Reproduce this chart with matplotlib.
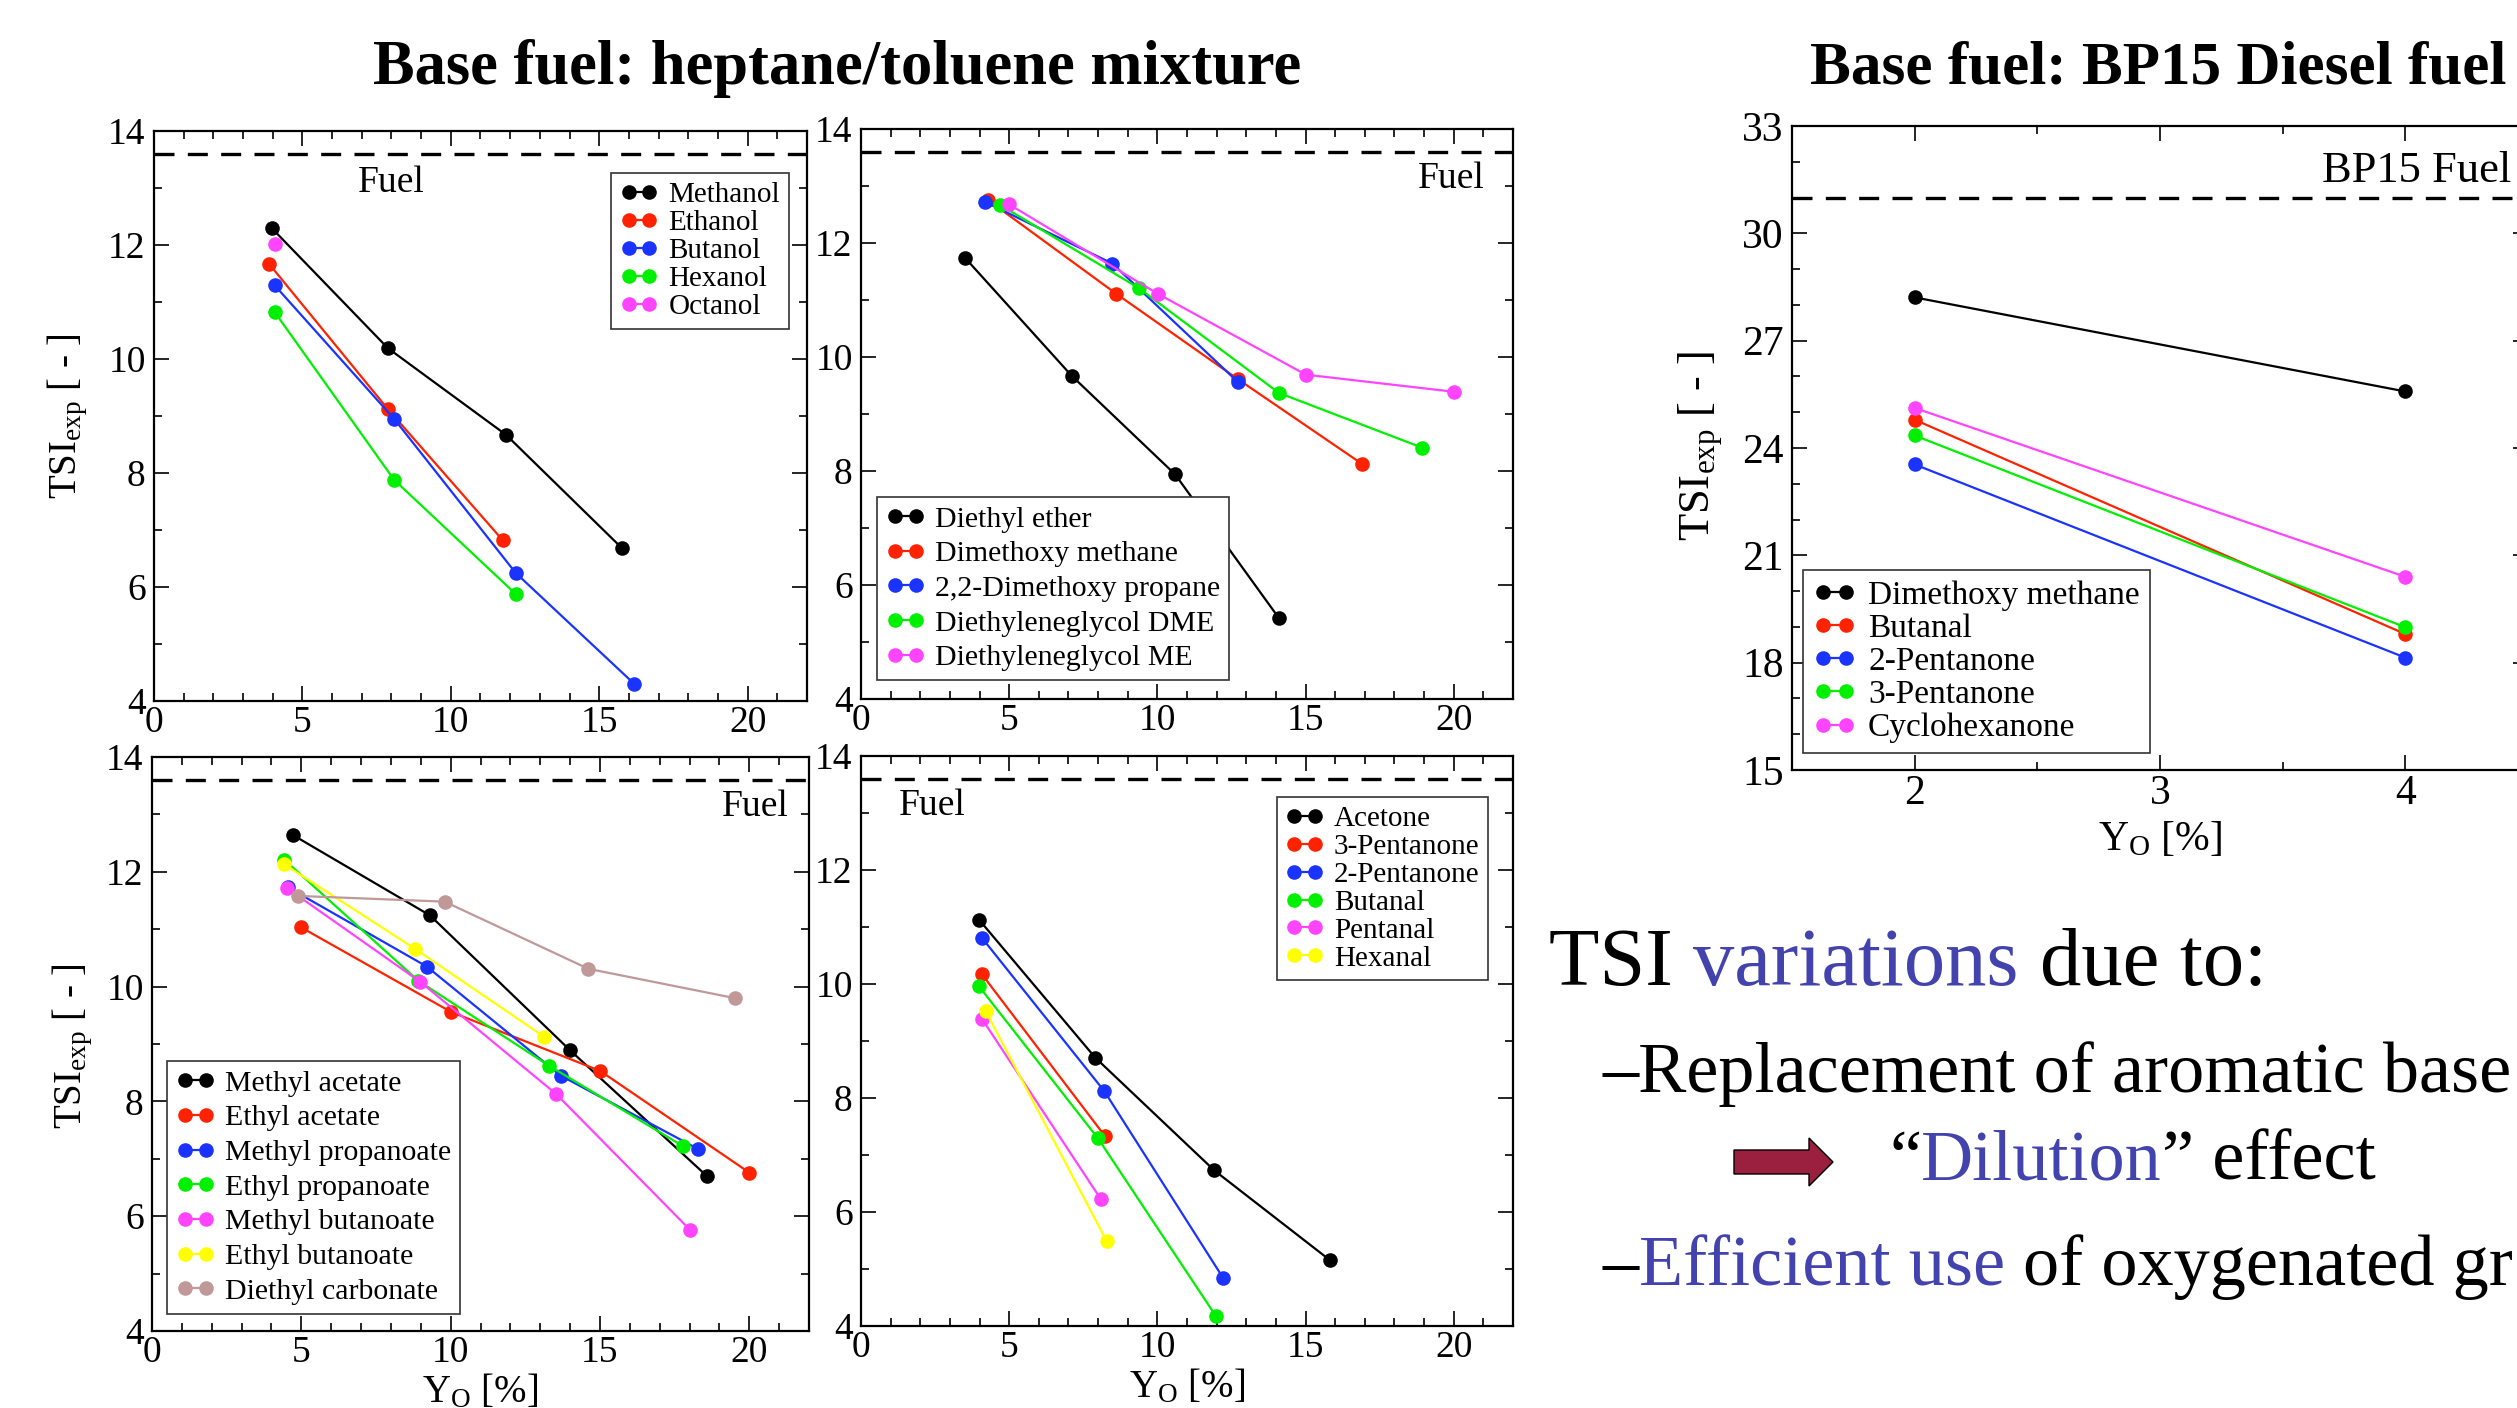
import matplotlib
matplotlib.use('Agg')
import matplotlib.pyplot as plt
from matplotlib.patches import Polygon
from matplotlib.ticker import MultipleLocator

plt.rcParams['font.family'] = ['Liberation Serif', 'DejaVu Serif']
plt.rcParams['mathtext.fontset'] = 'custom'
plt.rcParams['mathtext.rm'] = 'Liberation Serif'
plt.rcParams['mathtext.it'] = 'Liberation Serif:italic'
plt.rcParams['mathtext.bf'] = 'Liberation Serif:bold'

W, H, DPI = 2517, 1408, 100

# ---------------- colours ----------------
BLACK = '#000000'
RED = '#FF2200'
BLUE = '#1A33FF'
GREEN = '#00F000'
MAGENTA = '#FF44FF'
YELLOW = '#FFFF00'
BROWN = '#C09898'
TXTBLUE = '#4343AE'

# ---------------- data ----------------
fuel_tsi = 13.6
bp15_tsi = 31.0

# Panel 1: alcohols
p1_names = ['Methanol', 'Ethanol', 'Butanol', 'Hexanol', 'Octanol']
p1_colors = [BLACK, RED, BLUE, GREEN, MAGENTA]
p1_x = [[3.96, 7.88, 11.86, 15.77], [3.89, 7.88, 11.75], [4.07, 8.09, 12.18, 16.18],
        [4.07, 8.09, 12.18], [4.07]]
p1_y = [[12.30, 10.19, 8.67, 6.68], [11.66, 9.12, 6.82], [11.29, 8.95, 6.25, 4.30],
        [10.82, 7.88, 5.88], [12.01]]

# Panel 2: ethers
p2_names = ['Diethyl ether', 'Dimethoxy methane', '2,2-Dimethoxy propane',
            'Diethyleneglycol DME', 'Diethyleneglycol ME']
p2_colors = [BLACK, RED, BLUE, GREEN, MAGENTA]
p2_x = [[3.51, 7.11, 10.60, 14.10], [4.27, 8.61, 12.72, 16.89], [4.19, 8.48, 12.72],
        [4.69, 9.37, 14.10, 18.93], [4.99, 10.01, 15.01, 20.0]]
p2_y = [[11.74, 9.67, 7.94, 5.42], [12.76, 11.11, 9.61, 8.13], [12.72, 11.64, 9.56],
        [12.67, 11.21, 9.37, 8.41], [12.68, 11.11, 9.69, 9.39]]

# Panel 3: esters
p3_names = ['Methyl acetate', 'Ethyl acetate', 'Methyl propanoate', 'Ethyl propanoate',
            'Methyl butanoate', 'Ethyl butanoate', 'Diethyl carbonate']
p3_colors = [BLACK, RED, BLUE, GREEN, MAGENTA, YELLOW, BROWN]
p3_x = [[4.72, 9.31, 14.00, 18.58], [5.00, 10.01, 15.01, 20.0], [4.55, 9.20, 13.68, 18.29],
        [4.43, 8.92, 13.30, 17.78], [4.51, 8.99, 13.53, 18.02], [4.43, 8.80, 13.12],
        [4.90, 9.80, 14.61, 19.51]]
p3_y = [[12.64, 11.24, 8.89, 6.70], [11.03, 9.56, 8.53, 6.76], [11.73, 10.35, 8.45, 7.17],
        [12.21, 10.10, 8.62, 7.22], [11.72, 10.08, 8.13, 5.76], [12.13, 10.66, 9.13],
        [11.58, 11.48, 10.31, 9.80]]

# Panel 4: ketones / aldehydes
p4_names = ['Acetone', '3-Pentanone', '2-Pentanone', 'Butanal', 'Pentanal', 'Hexanal']
p4_colors = [BLACK, RED, BLUE, GREEN, MAGENTA, YELLOW]
p4_x = [[3.98, 7.90, 11.92, 15.81], [4.08, 8.22], [4.08, 8.21, 12.21],
        [3.98, 8.00, 11.98], [4.08, 8.10], [4.21, 8.29]]
p4_y = [[11.13, 8.71, 6.73, 5.16], [10.17, 7.34], [10.81, 8.12, 4.85],
        [9.96, 7.29, 4.17], [9.39, 6.22], [9.52, 5.49]]

# Panel 5: BP15 diesel
p5_names = ['Dimethoxy methane', 'Butanal', '2-Pentanone', '3-Pentanone', 'Cyclohexanone']
p5_colors = [BLACK, RED, BLUE, GREEN, MAGENTA]
p5_x = [[2, 4], [2, 4], [2, 4], [2, 4], [2, 4]]
p5_y = [[28.21, 25.58], [24.79, 18.80], [23.54, 18.14], [24.35, 18.99], [25.12, 20.40]]

# ---------------- figure ----------------
fig = plt.figure(figsize=(W / DPI, H / DPI), dpi=DPI)
fig.patch.set_facecolor('white')


def add_ax(l, t, r, b):
    return fig.add_axes([l / W, 1 - b / H, (r - l) / W, (b - t) / H])


def style(ax, xlim, ylim, xmaj, xmin, ymaj, ymin, tfs):
    ax.set_xlim(*xlim)
    ax.set_ylim(*ylim)
    ax.xaxis.set_major_locator(MultipleLocator(xmaj))
    ax.xaxis.set_minor_locator(MultipleLocator(xmin))
    ax.yaxis.set_major_locator(MultipleLocator(ymaj))
    ax.yaxis.set_minor_locator(MultipleLocator(ymin))
    ax.tick_params(which='both', direction='in', top=True, right=True, width=1.2)
    ax.tick_params(which='major', length=11, labelsize=tfs)
    ax.tick_params(which='minor', length=5.5)
    ax.tick_params(axis='x', pad=3)
    ax.tick_params(axis='y', pad=6)
    for s in ax.spines.values():
        s.set_linewidth(1.6)


def plot_series(ax, names, colors, xs, ys):
    for n, c, x, y in zip(names, colors, xs, ys):
        ax.plot(x, y, '-o', color=c, lw=1.6, ms=10.5, mew=0, label=n)


def legend(ax, loc, anchor, fs, spacing):
    leg = ax.legend(loc=loc, bbox_to_anchor=anchor, fontsize=fs, frameon=True,
                    fancybox=False, edgecolor='#333333', framealpha=1,
                    handlelength=1.3, handletextpad=0.35, labelspacing=spacing,
                    borderpad=0.3, borderaxespad=0, numpoints=2)
    leg.get_frame().set_linewidth(1.2)
    return leg


dash = (0, (6, 4))
TFS = 27

# Panel 1
ax1 = add_ax(154, 131, 807, 701)
style(ax1, (0, 22), (4, 14), 5, 1, 2, 1, TFS)
ax1.axhline(fuel_tsi, color='k', lw=2.4, ls=dash)
plot_series(ax1, p1_names, p1_colors, p1_x, p1_y)
ax1.text(8.0, 13.1, 'Fuel', fontsize=27, ha='center', va='center')
legend(ax1, 'upper right', (0.972, 0.926), 21, 0.05)
ax1.set_ylabel(r'TSI$_{\rm exp}$ [ - ]', fontsize=28, va='center')
ax1.yaxis.set_label_coords(-0.132, 0.5)

# Panel 2
ax2 = add_ax(861, 129, 1513, 699)
style(ax2, (0, 22), (4, 14), 5, 1, 2, 1, TFS)
ax2.axhline(fuel_tsi, color='k', lw=2.4, ls=dash)
plot_series(ax2, p2_names, p2_colors, p2_x, p2_y)
ax2.text(19.9, 13.12, 'Fuel', fontsize=27, ha='center', va='center')
legend(ax2, 'lower left', (0.0245, 0.033), 21.5, 0.26)

# Panel 3
ax3 = add_ax(152, 757, 809, 1331)
style(ax3, (0, 22), (4, 14), 5, 1, 2, 1, TFS)
ax3.axhline(fuel_tsi, color='k', lw=2.4, ls=dash)
plot_series(ax3, p3_names, p3_colors, p3_x, p3_y)
ax3.text(20.2, 13.13, 'Fuel', fontsize=27, ha='center', va='center')
legend(ax3, 'lower left', (0.023, 0.03), 21.5, 0.26)
ax3.set_ylabel(r'TSI$_{\rm exp}$ [ - ]', fontsize=28, va='center')
ax3.yaxis.set_label_coords(-0.12, 0.497)
ax3.set_xlabel(r'Y$_{\rm O}$ [%]', fontsize=28)
ax3.xaxis.set_label_coords(0.5, -0.073)

# Panel 4
ax4 = add_ax(861, 756, 1513, 1326)
style(ax4, (0, 22), (4, 14), 5, 1, 2, 1, TFS)
ax4.axhline(fuel_tsi, color='k', lw=2.4, ls=dash)
plot_series(ax4, p4_names, p4_colors, p4_x, p4_y)
ax4.text(2.4, 13.13, 'Fuel', fontsize=27, ha='center', va='center')
legend(ax4, 'upper right', (0.962, 0.928), 21, 0.05)
ax4.set_xlabel(r'Y$_{\rm O}$ [%]', fontsize=28)
ax4.xaxis.set_label_coords(0.5, -0.073)

# Panel 5
ax5 = add_ax(1792, 126, 2528, 770)
style(ax5, (1.5, 4.5), (15, 33), 1, 0.5, 3, 1, 30)
ax5.axhline(bp15_tsi, color='k', lw=2.4, ls=dash)
plot_series(ax5, p5_names, p5_colors, p5_x, p5_y)
ax5.text(4.43, 31.74, 'BP15 Fuel', fontsize=32, ha='right', va='center')
legend(ax5, 'lower left', (0.015, 0.026), 24, 0.08)
ax5.set_ylabel(r'TSI$_{\rm exp}$ [ - ]', fontsize=32, va='center')
ax5.yaxis.set_label_coords(-0.124, 0.503)
ax5.set_xlabel(r'Y$_{\rm O}$ [%]', fontsize=30)
ax5.xaxis.set_label_coords(0.5, -0.078)

# Titles
fig.text(837 / W, 1 - 84 / H, 'Base fuel: heptane/toluene mixture', ha='center',
         va='baseline', fontsize=45, fontweight='bold')
fig.text(1810 / W, 1 - 84 / H, 'Base fuel: BP15 Diesel fuel', ha='left',
         va='baseline', fontsize=44, fontweight='bold')

# Rich text on the lower right
renderer = fig.canvas.get_renderer()


def text_width(s, fs):
    t = fig.text(0, 0, s, fontsize=fs)
    w = t.get_window_extent(renderer).width
    t.remove()
    return w


def rich_text(x_px, y_px, segments, fs):
    prefix = ''
    for s, c in segments:
        st = s.lstrip()
        if prefix:
            off = text_width(prefix + s, fs) - text_width(st, fs)
        else:
            off = 0.0
        fig.text((x_px + off) / W, 1 - y_px / H, st, fontsize=fs, color=c,
                 ha='left', va='baseline')
        prefix += s


rich_text(1549, 985, [('TSI ', BLACK), ('variations', TXTBLUE), (' due to:', BLACK)], 59.5)
rich_text(1603, 1092, [('\u2013Replacement of aromatic base', BLACK)], 52)
rich_text(1889, 1180, [('\u201c', BLACK), ('Dilution', TXTBLUE), ('\u201d effect', BLACK)], 52)
rich_text(1603, 1285, [('\u2013', BLACK), ('Efficient use', TXTBLUE),
                       (' of oxygenated gr', BLACK)], 52)

# Arrow
arrow_px = [(1734, 1150), (1809, 1150), (1809, 1138), (1833, 1162),
            (1809, 1186), (1809, 1174), (1734, 1174)]
fig.patches.append(Polygon([(x / W, 1 - y / H) for x, y in arrow_px], closed=True,
                           transform=fig.transFigure, facecolor='#9B2040',
                           edgecolor='black', lw=1.0))

fig.savefig('out.png', dpi=DPI, facecolor='white')
